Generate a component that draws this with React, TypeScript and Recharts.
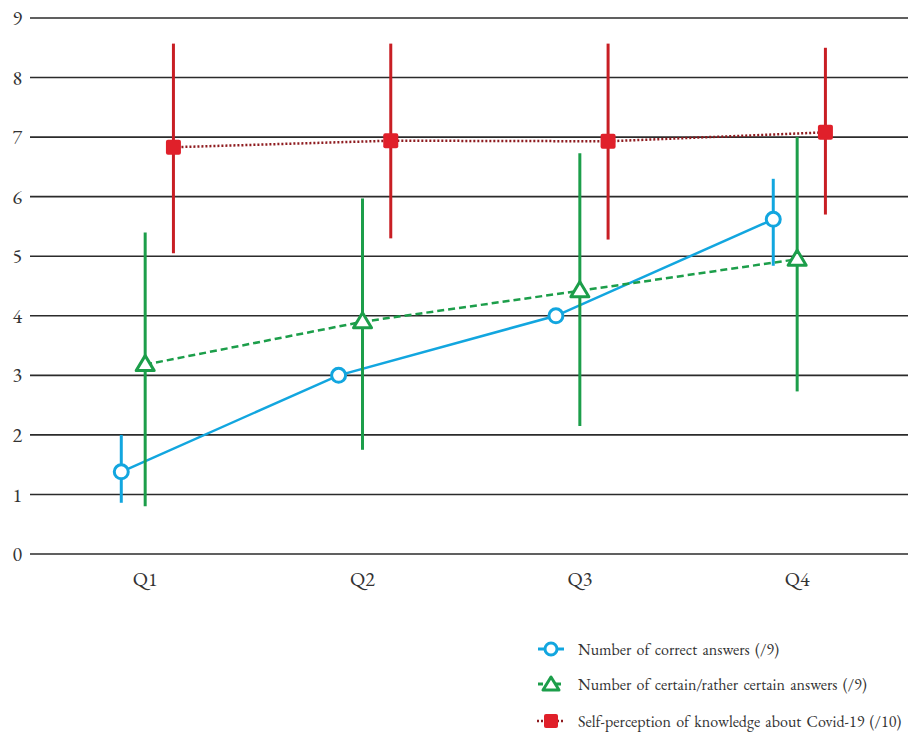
import { ComposedChart, Line, XAxis, YAxis, CartesianGrid, ErrorBar } from 'recharts';

const quarters = ['Q1', 'Q2', 'Q3', 'Q4'];

// Number of correct answers (/9)
const correct = [1.38, 3.0, 4.0, 5.62];
const correctLow = [0.86, 3.0, 4.0, 4.84];
const correctHigh = [2.0, 3.0, 4.0, 6.3];

// Number of certain/rather certain answers (/9)
const certain = [3.18, 3.9, 4.42, 4.95];
const certainLow = [0.8, 1.75, 2.15, 2.73];
const certainHigh = [5.4, 5.97, 6.73, 7.0];

// Self-perception of knowledge about Covid-19 (/10)
const selfPerc = [6.83, 6.94, 6.93, 7.08];
const selfLow = [5.05, 5.3, 5.28, 5.7];
const selfHigh = [8.57, 8.57, 8.57, 8.5];

const yTicks = [0, 1, 2, 3, 4, 5, 6, 7, 8, 9];

const BLUE = '#12a6df';
const GREEN = '#1c9e4a';
const RED = '#e0202a';
const RED_BAR = '#c81e24';
const RED_LINE = '#8e1b1f';
const FONT = "'EB Garamond', 'Liberation Serif', serif";

// horizontal shift of each series inside its quarter (in category units)
const build = (vals: number[], lo: number[], hi: number[], shift: number) =>
  vals.map((v, i) => ({
    x: i + 1 + shift,
    y: v,
    err: [v - lo[i], hi[i] - v],
  }));

const correctData = build(correct, correctLow, correctHigh, -0.11);
const certainData = build(certain, certainLow, certainHigh, 0.0);
const selfData = build(selfPerc, selfLow, selfHigh, 0.13);

const CircleDot = (p: any) => (
  <circle key={p.index} cx={p.cx} cy={p.cy} r={7} fill="#fff" stroke={BLUE} strokeWidth={3} />
);

const TriangleDot = (p: any) => (
  <polygon
    key={p.index}
    points={`${p.cx},${p.cy - 9} ${p.cx - 9},${p.cy + 6} ${p.cx + 9},${p.cy + 6}`}
    fill="#fff" stroke={GREEN} strokeWidth={3} strokeLinejoin="round"
  />
);

const SquareDot = (p: any) => (
  <rect key={p.index} x={p.cx - 7.5} y={p.cy - 7.5} width={15} height={15} rx={2} fill={RED} />
);

const legendItems = [
  { label: 'Number of correct answers (/9)', kind: 'circle' },
  { label: 'Number of certain/rather certain answers (/9)', kind: 'triangle' },
  { label: 'Self-perception of knowledge about Covid-19 (/10)', kind: 'square' },
];

function LegendIcon({ kind }: { kind: string }) {
  if (kind === 'circle') {
    return (
      <svg width={30} height={20}>
        <line x1={2} y1={10} x2={28} y2={10} stroke={BLUE} strokeWidth={3} />
        <circle cx={15} cy={10} r={6} fill="#fff" stroke={BLUE} strokeWidth={3} />
      </svg>
    );
  }
  if (kind === 'triangle') {
    return (
      <svg width={30} height={20}>
        <line x1={2} y1={10} x2={28} y2={10} stroke={GREEN} strokeWidth={3} strokeDasharray="5 4" />
        <polygon points="15,3 7,16 23,16" fill="#fff" stroke={GREEN} strokeWidth={3} strokeLinejoin="round" />
      </svg>
    );
  }
  return (
    <svg width={30} height={20}>
      <line x1={1} y1={10} x2={29} y2={10} stroke={RED_LINE} strokeWidth={2.5} strokeDasharray="2 2" />
      <rect x={8} y={3} width={14} height={14} rx={2} fill={RED} />
    </svg>
  );
}

export default function App() {
  return (
    <div style={{ position: 'absolute', left: 0, top: 0, width: 908, height: 734, background: '#fff', fontFamily: FONT, overflow: 'hidden' }}>
      <ComposedChart width={908} height={734} margin={{ top: 18, right: 0, bottom: 150, left: 0 }}>
        <CartesianGrid horizontal vertical={false} stroke="#2b2b2b" strokeWidth={1.6} />
        <XAxis
          type="number" dataKey="x" domain={[0.47, 4.51]} allowDataOverflow
          ticks={[1, 2, 3, 4]} tickFormatter={(v) => quarters[v - 1]}
          axisLine={false} tickLine={false} height={30} tickMargin={12}
          tick={{ fill: '#333', fontSize: 20, fontFamily: FONT }}
        />
        <YAxis
          type="number" domain={[0, 9]} ticks={yTicks} width={30}
          axisLine={false} tickLine={false} tickSize={0} tickMargin={8}
          tick={{ fill: '#333', fontSize: 20, fontFamily: FONT }}
        />
        <Line
          data={correctData} dataKey="y" stroke={BLUE} strokeWidth={2.5}
          dot={CircleDot} activeDot={false} isAnimationActive={false}
        >
          <ErrorBar dataKey="err" direction="y" width={0} stroke={BLUE} strokeWidth={3} />
        </Line>
        <Line
          data={certainData} dataKey="y" stroke={GREEN} strokeWidth={2.5} strokeDasharray="7 4"
          dot={TriangleDot} activeDot={false} isAnimationActive={false}
        >
          <ErrorBar dataKey="err" direction="y" width={0} stroke={GREEN} strokeWidth={3} />
        </Line>
        <Line
          data={selfData} dataKey="y" stroke={RED_LINE} strokeWidth={2.5} strokeDasharray="2 2"
          dot={SquareDot} activeDot={false} isAnimationActive={false}
        >
          <ErrorBar dataKey="err" direction="y" width={0} stroke={RED_BAR} strokeWidth={3} />
        </Line>
      </ComposedChart>
      <div style={{ position: 'absolute', left: 536, top: 639 }}>
        {legendItems.map((it, i) => (
          <div key={it.label} style={{ display: 'flex', alignItems: 'center', height: 20, marginBottom: i === 1 ? 17 : 15 }}>
            <LegendIcon kind={it.kind} />
            <span style={{ marginLeft: 12, fontSize: 16, wordSpacing: 2, color: '#333', whiteSpace: 'nowrap' }}>{it.label}</span>
          </div>
        ))}
      </div>
    </div>
  );
}
